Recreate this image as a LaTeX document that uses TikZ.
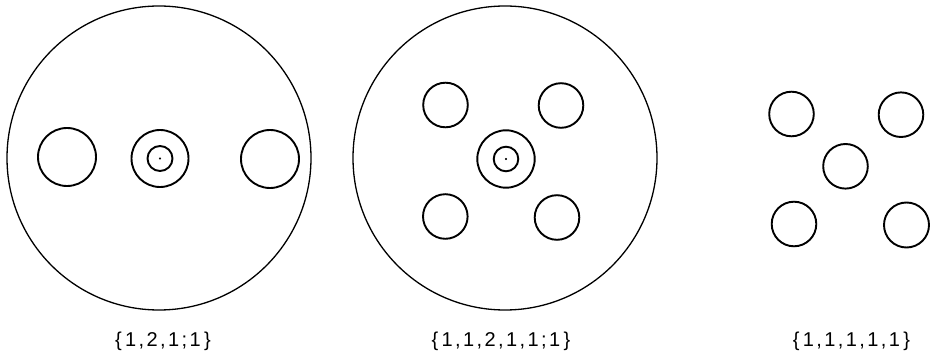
\documentclass[tikz,border=0pt]{standalone}
\usepackage{fontspec}
\setmainfont{Liberation Sans}
\newfontfamily\labfont[LetterSpace=12]{Liberation Sans}
\usepackage{tikz}
\usetikzlibrary{positioning}
\tikzset{
  rim/.style={line width=1.3pt},
  hole/.style={line width=1.9pt},
  lab/.style={font=\labfont\fontsize{20}{24}\selectfont, inner sep=0pt}}

\begin{document}
\begin{tikzpicture}[x=1pt,y=-1pt]
\useasboundingbox (0,0) rectangle (930,358);
% first disc
\coordinate (c1) at (159,158);
\coordinate (l1) at (67,157);
\coordinate (m1) at (160,158.5);
\coordinate (r1) at (270,159);
\draw [rim] (c1) circle (152);
\draw [hole] (l1) circle (29);
\draw [hole] (m1) circle (28.5);
\draw [hole] (m1) circle (12.5);
\draw [hole] (r1) circle (29);
\draw [fill] (m1) circle (0.8);
% second disc
\coordinate (c2) at (505,158);
\coordinate (a2) at (445.5,105);
\coordinate (b2) at (561,105.5);
\coordinate (m2) at (506,159);
\coordinate (d2) at (445.3,216.5);
\coordinate (e2) at (557,217.5);
\draw [rim] (c2) circle (152);
\draw [hole] (a2) circle (22.3);
\draw [hole] (b2) circle (22.3);
\draw [hole] (m2) circle (28.7);
\draw [hole] (m2) circle (12.3);
\draw [hole] (d2) circle (22.3);
\draw [hole] (e2) circle (22.3);
\draw [fill] (m2) circle (0.8);
% no disc
\coordinate (a3) at (791.5,114);
\coordinate (b3) at (901,114.7);
\coordinate (m3) at (845.5,166.3);
\coordinate (d3) at (794,224);
\coordinate (e3) at (906.5,225);
\draw [hole] (a3) circle (22.3);
\draw [hole] (b3) circle (22.3);
\draw [hole] (m3) circle (22.3);
\draw [hole] (d3) circle (22.3);
\draw [hole] (e3) circle (22.5);
% labels
\node [lab] (t1) at (163,341) {\{\,1,2,1;1\,\}};
\node [lab] (t2) at (501,341) {\{\,1,1,2,1,1;1\,\}};
\node [lab] (t3) at (851.5,341) {\{\,1,1,1,1,1\,\}};
\end{tikzpicture}
\end{document}
